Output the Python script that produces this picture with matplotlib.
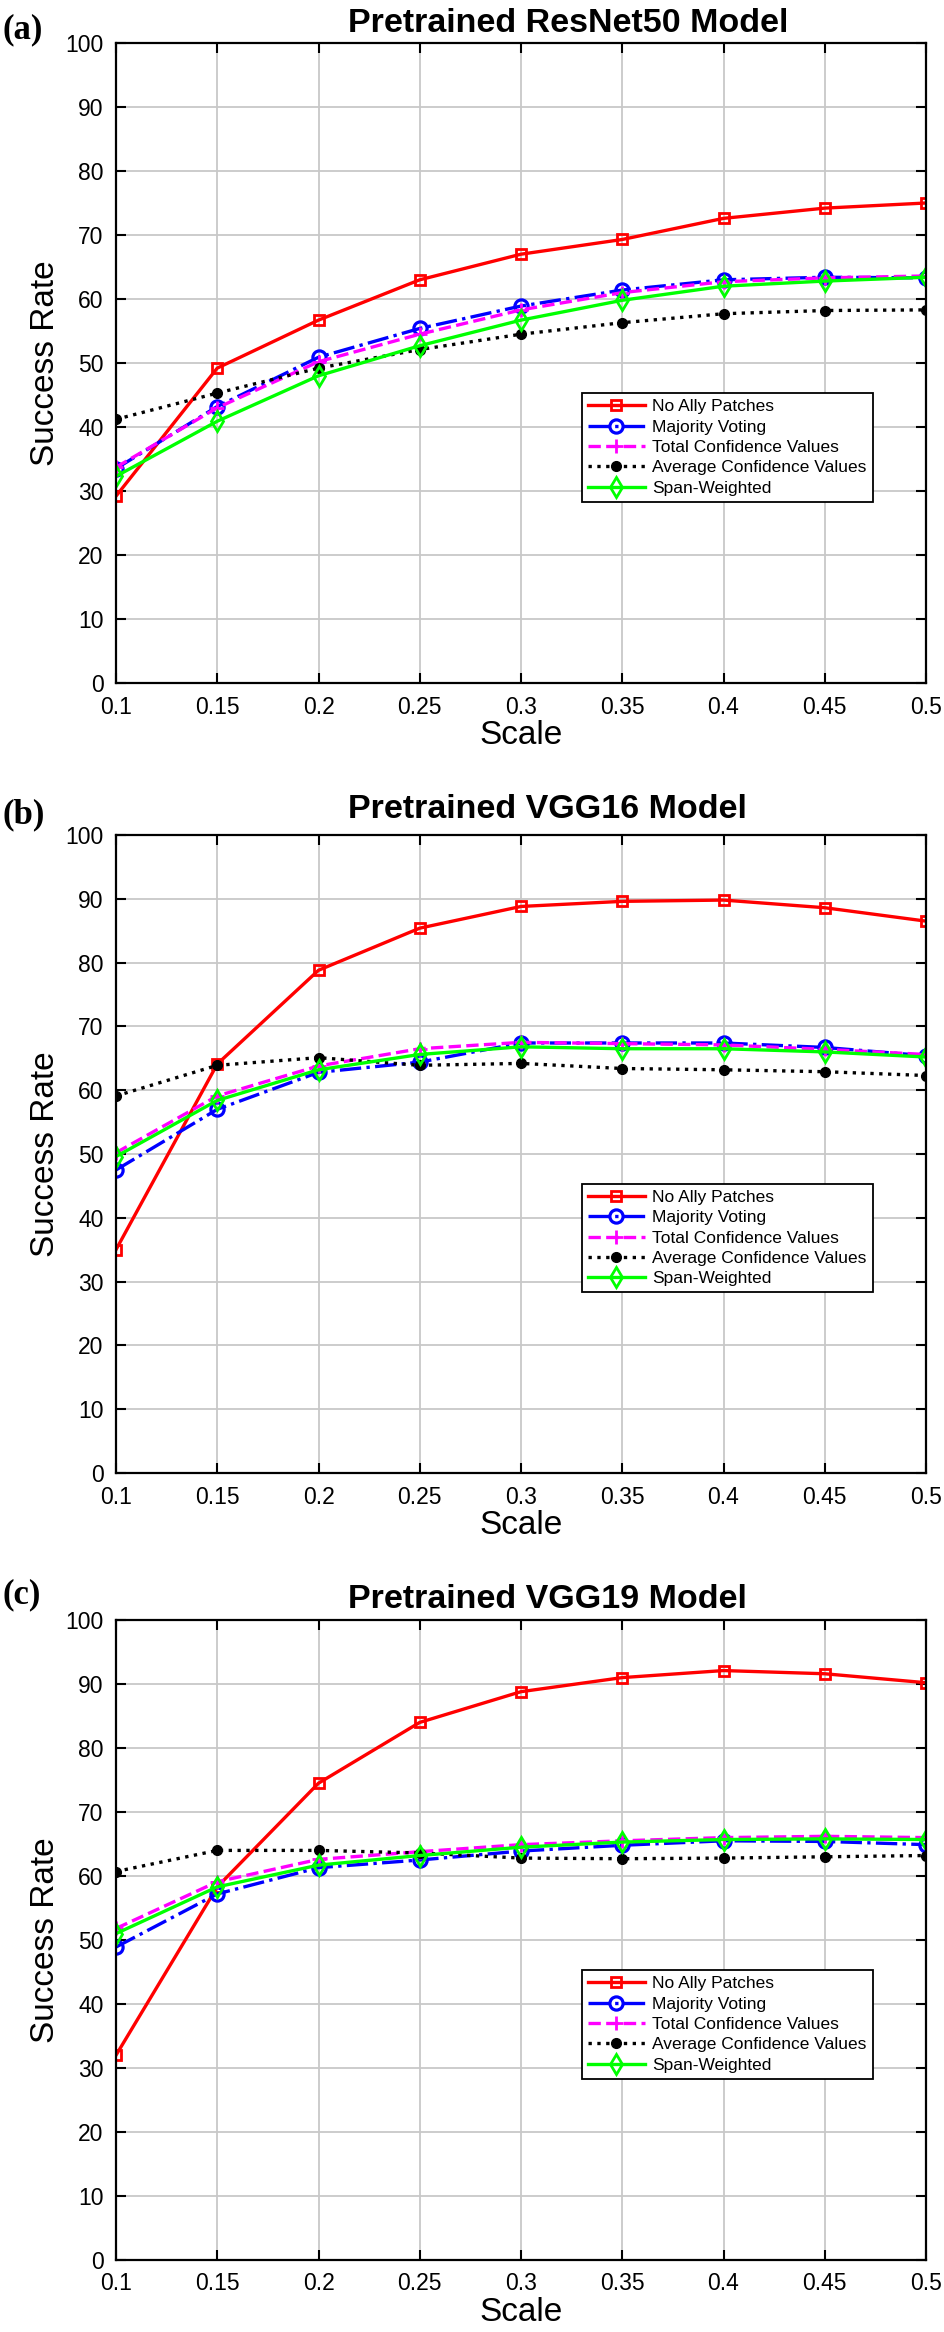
import matplotlib
matplotlib.use("Agg")
import matplotlib.pyplot as plt

plt.rcParams['font.family'] = ['Liberation Sans', 'DejaVu Sans']

scale = [0.1, 0.15, 0.2, 0.25, 0.3, 0.35, 0.4, 0.45, 0.5]
scale_labels = ['0.1', '0.15', '0.2', '0.25', '0.3', '0.35', '0.4', '0.45', '0.5']
series_names = ['No Ally Patches', 'Majority Voting', 'Total Confidence Values',
                'Average Confidence Values', 'Span-Weighted']
panel_tags = ['(a)', '(b)', '(c)']
titles = ['Pretrained ResNet50 Model', 'Pretrained VGG16 Model', 'Pretrained VGG19 Model']

# ResNet50
resnet_no_ally = [29.2, 49.2, 56.7, 63.0, 67.0, 69.3, 72.6, 74.2, 75.0]
resnet_majority = [33.5, 43.2, 50.9, 55.4, 58.9, 61.4, 63.0, 63.4, 63.3]
resnet_total = [33.7, 43.0, 50.2, 54.5, 58.3, 61.0, 62.7, 63.3, 63.6]
resnet_average = [41.2, 45.3, 49.2, 52.1, 54.5, 56.3, 57.7, 58.2, 58.3]
resnet_span = [32.3, 40.9, 48.0, 52.7, 56.7, 59.8, 62.0, 62.8, 63.4]

# VGG16
vgg16_no_ally = [35.0, 64.1, 78.8, 85.4, 88.8, 89.6, 89.8, 88.6, 86.5]
vgg16_majority = [47.5, 57.0, 62.8, 64.4, 67.4, 67.4, 67.4, 66.7, 65.4]
vgg16_total = [50.2, 59.1, 63.8, 66.5, 67.5, 67.3, 67.1, 66.4, 65.6]
vgg16_average = [59.1, 63.9, 65.1, 63.9, 64.2, 63.4, 63.2, 62.9, 62.3]
vgg16_span = [49.6, 58.4, 63.2, 65.6, 66.8, 66.5, 66.5, 66.0, 65.2]

# VGG19
vgg19_no_ally = [32.0, 58.3, 74.5, 84.0, 88.8, 91.0, 92.1, 91.6, 90.2]
vgg19_majority = [48.9, 57.2, 61.3, 62.5, 63.9, 64.8, 65.5, 65.4, 64.9]
vgg19_total = [51.8, 59.1, 62.6, 63.8, 64.9, 65.5, 66.0, 66.2, 66.0]
vgg19_average = [60.7, 64.0, 64.0, 63.6, 62.8, 62.7, 62.8, 63.0, 63.2]
vgg19_span = [51.0, 58.3, 61.7, 63.2, 64.5, 65.3, 65.7, 65.8, 65.7]

panels = [
    [resnet_no_ally, resnet_majority, resnet_total, resnet_average, resnet_span],
    [vgg16_no_ally, vgg16_majority, vgg16_total, vgg16_average, vgg16_span],
    [vgg19_no_ally, vgg19_majority, vgg19_total, vgg19_average, vgg19_span],
]

# matlab-like styles
styles = [
    dict(color='#ff0000', ls='-', marker='s', mfc='none', ms=7, mew=2),
    dict(color='#0000ff', ls='-.', marker='o', mfc='none', ms=9.5, mew=2.3),
    dict(color='#ff00ff', ls='--', marker='+', ms=10, mew=2),
    dict(color='black', ls=':', marker='o', mfc='black', ms=7, mew=1),
    dict(color='#00ff00', ls='-', marker='d', mfc='none', ms=10, mew=2),
]

W, H = 944, 2332
fig = plt.figure(figsize=(W / 100, H / 100), dpi=100)

# axes boxes in pixels (top, bottom), title baselines, tag centres
boxes = [(43, 683), (835, 1473), (1620, 2260)]
title_base = [32, 818, 1608]
tag_y = [30, 815, 1595]
left, right = 116, 926

for i, (top, bottom) in enumerate(boxes):
    ax = fig.add_axes([left / W, 1 - bottom / H, (right - left) / W, (bottom - top) / H])
    for name, vals, st in zip(series_names, panels[i], styles):
        ax.plot(scale, vals, lw=2.4, label=name, **st)
    ax.set_xlim(0.1, 0.5)
    ax.set_ylim(0, 100)
    ax.set_xticks(scale)
    ax.set_xticklabels(scale_labels)
    ax.set_yticks(range(0, 101, 10))
    ax.grid(True, color='#c8c8c8', lw=1.3)
    ax.set_axisbelow(True)
    ax.tick_params(direction='in', length=7, width=1.5, top=True, right=True,
                   labelsize=16.5, pad=9)
    for sp in ax.spines.values():
        sp.set_linewidth(1.6)
    ax.set_xlabel('Scale', fontsize=24, labelpad=1)
    ax.set_ylabel('Success Rate', fontsize=24)
    ax.yaxis.set_label_coords((61 - left) / (right - left), 0.5)
    fig.text(348 / W, 1 - title_base[i] / H, titles[i], fontsize=24.5,
             fontweight='bold', ha='left', va='baseline')
    leg = ax.legend(loc='lower left', bbox_to_anchor=(0.575, 0.283), fontsize=12.5,
                    handlelength=3.3, handletextpad=0.4, labelspacing=0.3,
                    borderaxespad=0, borderpad=0.35, fancybox=False, framealpha=1)
    leg.get_frame().set_edgecolor('black')
    leg.get_frame().set_linewidth(1.3)
    fig.text(2 / W, 1 - tag_y[i] / H, panel_tags[i], fontsize=25, fontweight='bold',
             family='Liberation Serif', va='center', ha='left')

fig.savefig('out.png', dpi=100)
